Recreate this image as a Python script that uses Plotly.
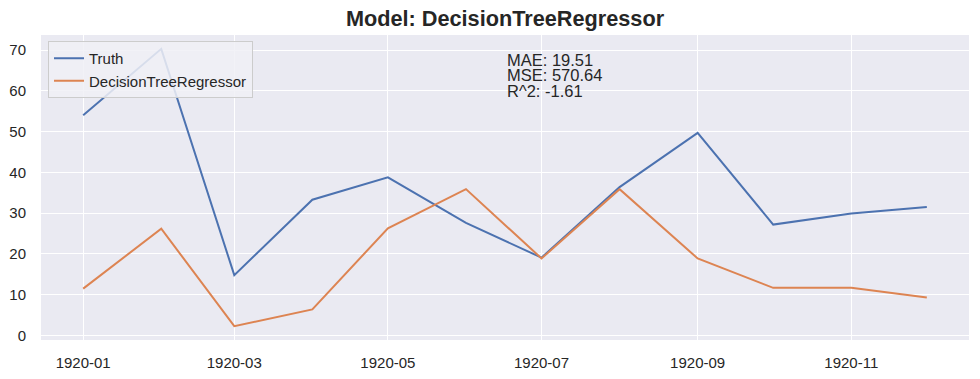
import pandas as pd
import plotly.graph_objects as go

months = ["1920-01", "1920-02", "1920-03", "1920-04", "1920-05", "1920-06",
          "1920-07", "1920-08", "1920-09", "1920-10", "1920-11", "1920-12"]
truth = [54.0, 70.3, 14.8, 33.3, 38.8, 27.6, 19.1, 36.4, 49.7, 27.2, 29.9, 31.5]
pred = [11.5, 26.2, 2.3, 6.4, 26.3, 35.9, 18.9, 35.9, 18.9, 11.7, 11.7, 9.35]
metric_lines = ["MAE: 19.51", "MSE: 570.64", "R^2: -1.61"]
tick_months = ["1920-01", "1920-03", "1920-05", "1920-07", "1920-09", "1920-11"]
title = "Model: DecisionTreeRegressor"

dates = pd.to_datetime(months)
span = dates.max() - dates.min()
x0 = dates.min() - span * 0.05
x1 = dates.max() + span * 0.05
allv = truth + pred
vr = max(allv) - min(allv)
y0 = min(allv) - 0.05 * vr
y1 = max(allv) + 0.05 * vr

FONT = "Liberation Sans, Arial, sans-serif"
TXT = "#262626"

fig = go.Figure()
fig.add_trace(go.Scatter(x=dates, y=truth, mode="lines", name="Truth",
                         line=dict(color="#4C72B0", width=2)))
fig.add_trace(go.Scatter(x=dates, y=pred, mode="lines", name="DecisionTreeRegressor",
                         line=dict(color="#DD8452", width=2)))

W, H = 980, 379
ml, mr, mt, mb = 41, 11, 35, 39
ph = H - mt - mb
pw = W - ml - mr

def py(pix):
    return (H - mb - pix) / ph

def px(pix):
    return (pix - ml) / pw

for i, t in enumerate(metric_lines):
    fig.add_annotation(text=t, xref="paper", yref="paper", x=0.5, y=py(59.8 + 15.4 * i),
                       xanchor="left", yanchor="middle", showarrow=False,
                       font=dict(family=FONT, size=16.5, color=TXT))

fig.update_layout(
    width=W, height=H,
    margin=dict(l=ml, r=mr, t=mt, b=mb, autoexpand=False),
    paper_bgcolor="white", plot_bgcolor="#EAEAF2",
    title=dict(text="<b>" + title + "</b>", x=0.5, xref="paper", xanchor="center",
               y=1 - 18.5 / H, yanchor="middle", font=dict(family=FONT, size=21.7, color=TXT)),
    font=dict(family=FONT, size=15, color=TXT),
    legend=dict(x=px(48), y=py(41), xanchor="left", yanchor="top",
                bgcolor="rgba(240,240,246,0.85)", bordercolor="#CCCCCC", borderwidth=1,
                font=dict(family=FONT, size=15, color=TXT), tracegroupgap=0,
                itemwidth=30),
    showlegend=True,
)
fig.update_xaxes(range=[x0, x1], tickvals=pd.to_datetime(tick_months), ticktext=tick_months,
                 showgrid=True, gridcolor="white", gridwidth=1.3, zeroline=False,
                 showline=False, ticks="", ticklabelstandoff=12, automargin=False,
                 tickfont=dict(size=15))
fig.update_yaxes(range=[y0, y1], tickvals=list(range(0, 71, 10)),
                 showgrid=True, gridcolor="white", gridwidth=1.3, zeroline=False,
                 showline=False, ticks="", ticklabelstandoff=14, automargin=False,
                 tickfont=dict(size=15))

fig.write_html("out.html", config={"displayModeBar": False},
               post_script="document.body.style.margin='0';")
